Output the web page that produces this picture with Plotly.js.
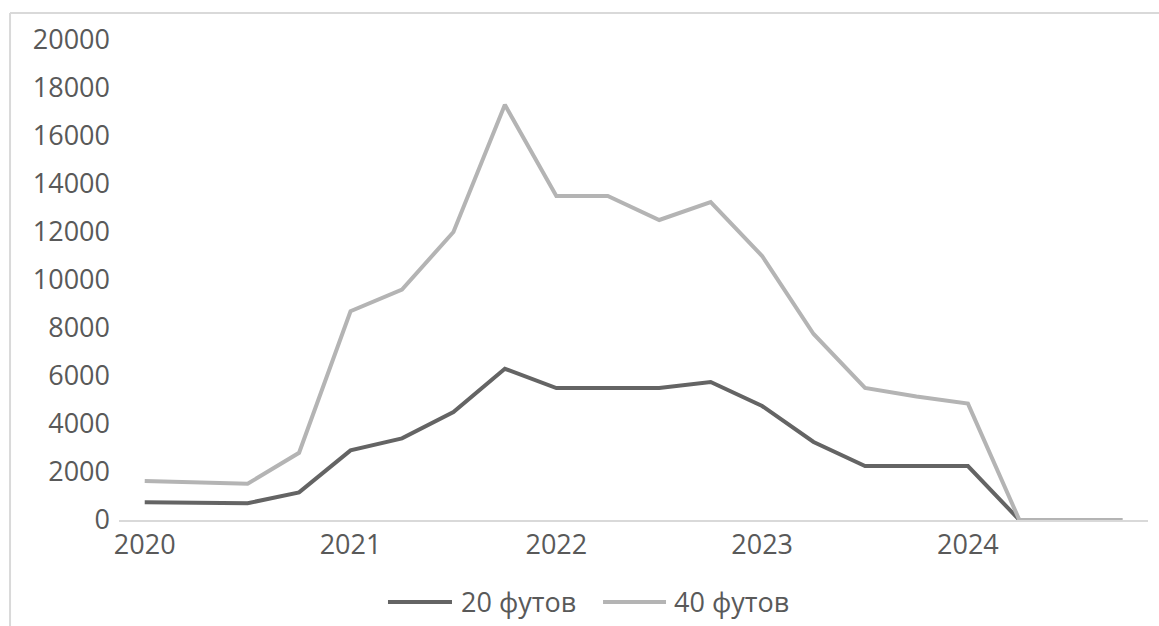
<!DOCTYPE html>
<html>
<head>
<meta charset="utf-8">
<script src="https://cdn.plot.ly/plotly-3.0.1.min.js"></script>
<style>
  html, body { margin: 0; padding: 0; background: #ffffff; }
  #chart { width: 1159px; height: 626px; }
</style>
</head>
<body>
<div id="chart"></div>
<script>
// Quarterly categories (Q1 2020 .. Q4 2024)
var quarters = [
  "2020-Q1","2020-Q2","2020-Q3","2020-Q4",
  "2021-Q1","2021-Q2","2021-Q3","2021-Q4",
  "2022-Q1","2022-Q2","2022-Q3","2022-Q4",
  "2023-Q1","2023-Q2","2023-Q3","2023-Q4",
  "2024-Q1","2024-Q2","2024-Q3","2024-Q4"
];
var feet20 = [740, 710, 700, 1150, 2900, 3400, 4500, 6300, 5500, 5500, 5500, 5750, 4750, 3250, 2250, 2250, 2250, 0, 0, 0];
var feet40 = [1625, 1570, 1510, 2800, 8700, 9600, 12000, 17300, 13500, 13500, 12500, 13250, 11000, 7750, 5500, 5150, 4850, 0, 0, 0];
var tickQuarters = ["2020-Q1","2021-Q1","2022-Q1","2023-Q1","2024-Q1"];
var tickLabels = ["2020","2021","2022","2023","2024"];
var yTicks = [0,2000,4000,6000,8000,10000,12000,14000,16000,18000,20000];
var seriesNames = ["20 футов", "40 футов"];
var seriesColors = ["#646464", "#b4b4b4"];

var textColor = "#595959";
var fontFamily = "'Open Sans', 'Noto Sans', sans-serif";
var fontSize = 27;

var traces = [
  { x: quarters, y: feet20, name: seriesNames[0], type: "scatter", mode: "lines",
    line: { color: seriesColors[0], width: 4 } },
  { x: quarters, y: feet40, name: seriesNames[1], type: "scatter", mode: "lines",
    line: { color: seriesColors[1], width: 4 } }
];

// custom legend (long line keys like the original)
var legendY = -0.1708;
var legendItems = [
  { x0: 0.2614, x1: 0.3236, tx: 0.3304 },
  { x0: 0.4704, x1: 0.5316, tx: 0.5374 }
];

var shapes = [
  { type: "line", xref: "paper", yref: "paper", x0: -0.1059, x1: 1.02, y0: 1.05625, y1: 1.05625,
    line: { color: "#d9d9d9", width: 2 } },
  { type: "line", xref: "paper", yref: "paper", x0: -0.1059, x1: -0.1059, y0: 1.05625, y1: -0.3,
    line: { color: "#d9d9d9", width: 2 } }
];
var annotations = [];
legendItems.forEach(function (it, i) {
  shapes.push({ type: "line", xref: "paper", yref: "paper", x0: it.x0, x1: it.x1, y0: legendY, y1: legendY,
                line: { color: seriesColors[i], width: 4 } });
  annotations.push({ xref: "paper", yref: "paper", x: it.tx, y: legendY, xanchor: "left", yanchor: "middle",
                     text: seriesNames[i], showarrow: false,
                     font: { family: fontFamily, size: fontSize, color: textColor } });
});

var layout = {
  width: 1159, height: 626,
  margin: { l: 119, r: 11, t: 40, b: 106, autoexpand: false },
  paper_bgcolor: "#ffffff", plot_bgcolor: "#ffffff",
  font: { family: fontFamily, size: fontSize, color: textColor },
  showlegend: false,
  xaxis: {
    type: "category", range: [-0.5, 19.5], automargin: false,
    tickvals: tickQuarters, ticktext: tickLabels,
    showgrid: false, zeroline: false, showline: true, linecolor: "#d9d9d9", linewidth: 2,
    ticks: "", tickfont: { family: fontFamily, size: fontSize, color: textColor }
  },
  yaxis: {
    range: [0, 20000], tickvals: yTicks, tickformat: "d", automargin: false,
    showgrid: false, zeroline: false, showline: false,
    ticks: "", ticklabelstandoff: 8,
    tickfont: { family: fontFamily, size: fontSize, color: textColor }
  },
  shapes: shapes,
  annotations: annotations
};

Plotly.newPlot("chart", traces, layout, { displayModeBar: false, staticPlot: true });
</script>
</body>
</html>
